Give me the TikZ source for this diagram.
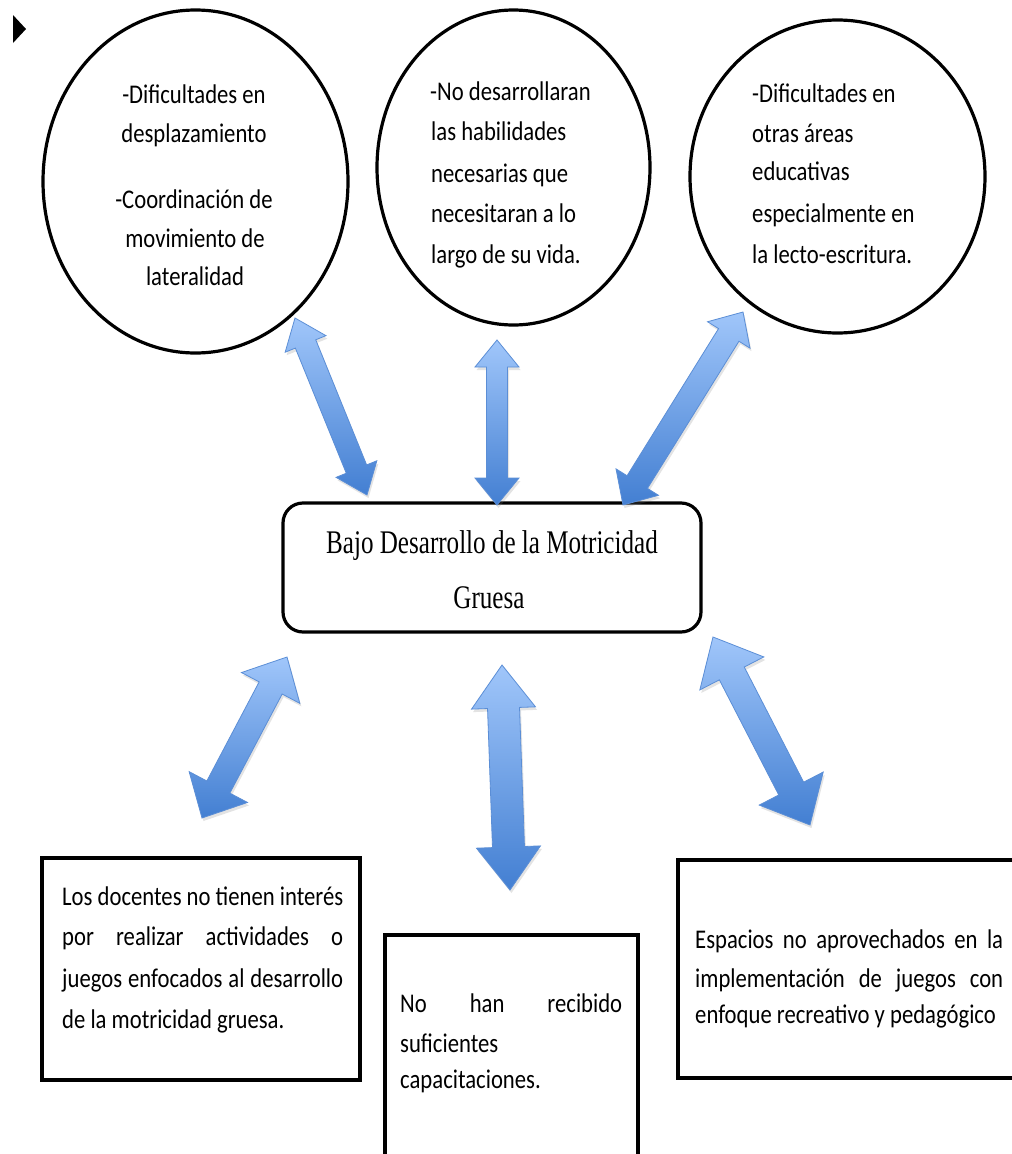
\documentclass[tikz,border=0pt]{standalone}
\usepackage{fontspec}
\usetikzlibrary{shapes.geometric,calc,shadows}
\newfontfamily\calib{Carlito}[FakeStretch=0.84]
\newfontfamily\serifc{Liberation Serif}[FakeStretch=0.76]
\definecolor{arrtop}{HTML}{A0C6FA}
\definecolor{arrbot}{HTML}{437FD2}
\definecolor{arrline}{HTML}{5B8ED6}
\tikzset{
  bubble/.style={ellipse, draw=black, line width=3.2pt, inner sep=0pt},
  mainbox/.style={rectangle, rounded corners=20pt, draw=black, line width=3.2pt, inner sep=0pt},
  sqbox/.style={rectangle, draw=black, line width=3.2pt, inner sep=0pt},
  txtl/.style={inner sep=0pt, anchor=base west, font=\calib\fontsize{27}{32}\selectfont},
  txtc/.style={inner sep=0pt, anchor=base, font=\calib\fontsize{27}{32}\selectfont},
  txts/.style={inner sep=0pt, anchor=base, font=\serifc\fontsize{33}{40}\selectfont},
  arrowstyle/.style={draw=arrline, line width=0.8pt, top color=arrtop, bottom color=arrbot,
    drop shadow={opacity=0.22, shadow xshift=1.5pt, shadow yshift=-3pt}},
}
\newcommand\dblarrow[5]{%
  \coordinate (ha) at ($(#1)!#5!(#2)$);
  \coordinate (hb) at ($(#2)!#5!(#1)$);
  \path[arrowstyle] (#1) -- ($(ha)!#4!90:(#2)$) -- ($(ha)!#3!90:(#2)$)
    -- ($(hb)!#3!-90:(#1)$) -- ($(hb)!#4!-90:(#1)$) -- (#2)
    -- ($(hb)!#4!90:(#1)$) -- ($(hb)!#3!90:(#1)$)
    -- ($(ha)!#3!-90:(#2)$) -- ($(ha)!#4!-90:(#2)$) -- cycle;
}
\begin{document}
\begin{tikzpicture}[x=1pt, y=-1pt]
\useasboundingbox (0,0) rectangle (1012,1154);
\fill[white] (0,0) rectangle (1012,1154);

% small marker
\fill[black] (13,15) -- (26,29) -- (13,43) -- cycle;

% circles
\node[bubble, minimum width=305pt, minimum height=343pt] (c1) at (195.5,181.5) {};
\node[bubble, minimum width=273pt, minimum height=315pt] (c2) at (513.5,167.5) {};
\node[bubble, minimum width=295pt, minimum height=313pt] (c3) at (837.5,176.5) {};

% circle texts
\node[txtc] (c1a) at (194,103) {-Dificultades en};
\node[txtc] (c1b) at (194,142) {desplazamiento};
\node[txtc] (c1c) at (194,208) {-Coordinación de};
\node[txtc] (c1d) at (195,247) {movimiento de};
\node[txtc] (c1e) at (195,285) {lateralidad};

\node[txtl] (c2a) at (430,100) {-No desarrollaran};
\node[txtl] (c2b) at (431,140) {las habilidades};
\node[txtl] (c2c) at (431,182) {necesarias que};
\node[txtl] (c2d) at (431,222) {necesitaran a lo};
\node[txtl] (c2e) at (431,263) {largo de su vida.};

\node[txtl] (c3a) at (752,102) {-Dificultades en};
\node[txtl] (c3b) at (752,142) {otras áreas};
\node[txtl] (c3c) at (752,180) {educativas};
\node[txtl] (c3d) at (752,222) {especialmente en};
\node[txtl] (c3e) at (752,263) {la lecto-escritura.};

% main box
\node[mainbox, minimum width=418pt, minimum height=129pt] (m) at (492,567.5) {};
\node[txts] (ma) at (492,553) {Bajo Desarrollo de la Motricidad};
\node[txts] (mb) at (489,608) {Gruesa};

% bottom boxes
\node[sqbox, minimum width=318pt, minimum height=222pt] (b1) at (201,969) {};
\node[sqbox, minimum width=253pt, minimum height=240pt] (b2) at (511.5,1055) {};
\node[sqbox, minimum width=337pt, minimum height=218pt] (b3) at (846.5,969) {};

\node[txtl] (b1a) at (62,905) {\makebox[281pt][s]{Los docentes no tienen interés}};
\node[txtl] (b1b) at (62,945) {\makebox[281pt][s]{por realizar actividades o}};
\node[txtl] (b1c) at (62,987) {\makebox[281pt][s]{juegos enfocados al desarrollo}};
\node[txtl] (b1d) at (62,1028) {de la motricidad gruesa.};

\node[txtl] (b2a) at (400,1012) {\makebox[222pt][s]{No han recibido}};
\node[txtl] (b2b) at (400,1052) {suficientes};
\node[txtl] (b2c) at (400,1088) {capacitaciones.};

\node[txtl] (b3a) at (695,948) {\makebox[308pt][s]{Espacios no aprovechados en la}};
\node[txtl] (b3b) at (695,987) {\makebox[308pt][s]{implementación de juegos con}};
\node[txtl] (b3c) at (695,1023) {enfoque recreativo y pedagógico};

% arrow end points
\coordinate (a1) at (295,318);  \coordinate (a2) at (367,495);
\coordinate (b1p) at (497,340); \coordinate (b2p) at (497,505);
\coordinate (e1) at (743,312);  \coordinate (e2) at (623,505);
\coordinate (d1) at (287,657);  \coordinate (d2) at (202,818);
\coordinate (f1) at (502,665);  \coordinate (f2) at (510,890);
\coordinate (g1) at (713,637);  \coordinate (g2) at (810,825);

\dblarrow{a1}{a2}{11pt}{22pt}{28pt}
\dblarrow{b1p}{b2p}{10.5pt}{22pt}{27pt}
\dblarrow{e1}{e2}{12pt}{25pt}{27pt}
\dblarrow{d1}{d2}{13pt}{33pt}{35pt}
\dblarrow{f1}{f2}{16pt}{32pt}{43pt}
\dblarrow{g1}{g2}{14pt}{36pt}{41pt}
\end{tikzpicture}
\end{document}
